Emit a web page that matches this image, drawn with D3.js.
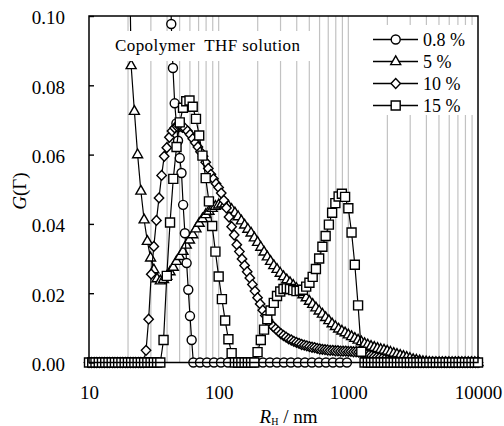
<!DOCTYPE html>
<html><head><meta charset="utf-8">
<script src="https://cdn.jsdelivr.net/npm/d3@7"></script>
<style>body{margin:0;background:#fff} svg{display:block} text{font-family:'Liberation Serif','DejaVu Serif','Times New Roman',serif}</style>
</head><body>
<svg id="chart" width="504" height="426"></svg>
<script>
// ---- data ----
// shared size grid of the 5 % and 15 % distributions (nm)
const radiiA = [10,10.59,11.22,11.89,12.59,13.34,14.13,14.96,15.85,16.79,
17.78,18.84,19.95,21.13,22.39,23.71,25.12,26.61,28.18,29.85,
31.62,33.50,35.48,37.58,39.81,42.17,44.67,47.32,50.12,53.09,
56.23,59.57,63.10,66.83,70.79,74.99,79.43,84.14,89.13,94.41,
100,105.9,112.2,118.9,125.9,133.4,141.3,149.6,158.5,167.9,
177.8,188.4,199.5,211.3,223.9,237.1,251.2,266.1,281.8,298.5,
316.2,335.0,354.8,375.8,398.1,421.7,446.7,473.2,501.2,530.9,
562.3,595.7,631.0,668.3,707.9,749.9,794.3,841.4,891.3,944.1,
1000,1059,1122,1189,1259,1334,1413,1496,1585,1679,
1778,1884,1995,2113,2239,2371,2512,2661,2818,2985,
3162,3350,3548,3758,3981,4217,4467,4732,5012,5309,
5623,5957,6310,6683,7079,7499,7943,8414,8913,9441,10000];
// size grid of the 10 % distribution (nm)
const radiiB = [10,10.47,10.96,11.48,12.02,12.59,13.18,13.80,14.45,15.14,
15.85,16.60,17.38,18.20,19.05,19.95,20.89,21.88,22.91,23.99,
25.12,26.30,27.54,28.84,30.20,31.62,33.11,34.67,36.31,38.02,
39.81,41.69,43.65,45.71,47.86,50.12,52.48,54.95,57.54,60.26,
63.10,66.07,69.18,72.44,75.86,79.43,83.18,87.10,91.20,95.50,
100,104.7,109.6,114.8,120.2,125.9,131.8,138.0,144.5,151.4,
158.5,166.0,173.8,182.0,190.5,199.5,208.9,218.8,229.1,239.9,
251.2,263.0,275.4,288.4,302.0,316.2,331.1,346.7,363.1,380.2,
398.1,416.9,436.5,457.1,478.6,501.2,524.8,549.5,575.4,602.6,
631.0,660.7,691.8,724.4,758.6,794.3,831.8,871.0,912.0,955.0,
1000,1047,1096,1148,1202,1259,1318,1380,1445,1514,
1585,1660,1738,1820,1905,1995,2089,2188,2291,2399,
2512,2630,2754,2884,3020,3162,3311,3467,3631,3802,
3981,4169,4365,4571,4786,5012,5248,5495,5754,6026,
6310,6607,6918,7244,7586,7943,8318,8710,9120,9550,10000];
// size points of the 0.8 % distribution (nm)
const radiiC = [41.8,43.1,44.4,45.8,47.2,48.6,50.1,51.7,53.2,54.9,
56.6,58.3,60.1,61.9,63.8,71.8,81.3,92.0,104.2,118.0,
133.6,151.2,171.2,193.9,219.5,248.6,281.5,318.8,360.9,408.7,
462.8,524.1,593.3,671.9,760.8,861.3,975.4];

// G(Γ) values
const g08 = [0.16,0.0977,0.085,0.0748,0.069,0.064,0.059,0.0547,0.0455,0.0373,
0.0287,0.021,0.0134,0.0065,0,0,0,0,0,0,
0,0,0,0,0,0,0,0,0,0,
0,0,0,0,0,0,0];
// null: values above the frame that are not drawn
const g5 = [null,null,null,null,null,null,null,null,null,null,
null,null,0.15,0.0857,0.0725,0.0600,0.0495,0.0412,0.0350,0.0302,
0.0268,0.0242,0.0236,0.0240,0.0249,0.0262,0.0275,0.0292,0.0306,0.0321,
0.0339,0.0354,0.0369,0.0386,0.0402,0.0415,0.0427,0.0437,0.0445,0.0451,
0.0455,0.0458,0.0458,0.0452,0.0442,0.0432,0.0421,0.0409,0.0397,0.0385,
0.0374,0.0360,0.0347,0.0333,0.0319,0.0305,0.0292,0.0280,0.0269,0.0258,
0.0248,0.0239,0.0231,0.0223,0.0214,0.0205,0.0196,0.0187,0.0177,0.0168,
0.0158,0.0149,0.0140,0.0130,0.0121,0.0112,0.0104,0.0097,0.0091,0.0086,
0.0080,0.0075,0.0070,0.0065,0.0060,0.0055,0.0051,0.0047,0.0044,0.0041,
0.0038,0.0036,0.0033,0.0030,0.0027,0.0024,0.0021,0.0018,0.0015,0.0012,
0.0009,0.0007,0.0005,0.0003,0.0002,0.0001,0,0,0,0,
0,0,0,0,0,0,0,0,0,0,0];
const g10 = [0,0,0,0,0,0,0,0,0,0,
0,0,0,0,0,0,0,0,0,0,
0,0,0.0035,0.0125,0.0255,0.0335,0.0410,0.0475,0.0540,0.0595,
0.0620,0.0650,0.0668,0.0677,0.0681,0.0681,0.0679,0.0676,0.0668,0.0658,
0.0646,0.0634,0.0622,0.0608,0.0595,0.0578,0.0560,0.0543,0.0530,0.0516,
0.0505,0.0489,0.0468,0.0446,0.0420,0.0392,0.0368,0.0340,0.0320,0.0299,
0.0280,0.0262,0.0244,0.0225,0.0206,0.0187,0.0169,0.0151,0.0136,0.0123,
0.0112,0.0104,0.0097,0.0090,0.0083,0.0078,0.0073,0.0068,0.0065,0.0061,
0.0058,0.0055,0.0052,0.0050,0.0048,0.0046,0.0044,0.0043,0.0041,0.0039,
0.0038,0.0037,0.0036,0.0035,0.0035,0.0034,0.0034,0.0033,0.0033,0.0033,
0.0032,0.0032,0.0031,0.0031,0.0030,0.0028,0.0026,0.0023,0.0021,0.0019,
0.0017,0.0015,0.0013,0.0011,0.0009,0.0007,0.0005,0.0004,0.0003,0.0002,
0.0001,0,0,0,0,0,0,0,0,0,
0,0,0,0,0,0,0,0,0,0,
0,0,0,0,0,0,0,0,0,0,0];
const g15 = [0,0,0,0,0,0,0,0,0,0,
0,0,0,0,0,0,0,0,0,0,
0,0,0,0.0065,0.0250,0.0404,0.0530,0.0622,0.0693,0.0735,
0.0754,0.0756,0.0738,0.0703,0.0655,0.0597,0.0532,0.0465,0.0394,0.0320,
0.0248,0.0183,0.0121,0.0067,0.0027,0,0,0,0,0,
0,0,0.0030,0.0065,0.0095,0.0125,0.0150,0.0172,0.0192,0.0205,
0.0212,0.0214,0.0212,0.0209,0.0206,0.0207,0.0210,0.0219,0.0230,0.0247,
0.0270,0.0300,0.0334,0.0365,0.0398,0.0432,0.0460,0.0479,0.0487,0.0478,
0.0445,0.0375,0.0282,0.0165,0.0031,0,0,0,0,0,
0,0,0,0,0,0,0,0,0,0,
0,0,0,0,0,0,0,0,0,0,
0,0,0,0,0,0,0,0,0,0,0];

const seriesLabels = ["0.8 %","5 %","10 %","15 %"];
const xTickValues = [10,100,1000,10000];
const yTickValues = [0,0.02,0.04,0.06,0.08,0.10];
const annotationText = "Copolymer  THF solution";

// ---- drawing ----
const FONT = "'Liberation Serif','DejaVu Serif','Times New Roman',serif";
const svg = d3.select("#chart");
const M = {l:89, r:478, t:16, b:362.5};
const x = d3.scaleLog().domain([10,10000]).range([M.l,M.r]);
const y = d3.scaleLinear().domain([0,0.1]).range([M.b,M.t]);

svg.append("rect").attr("width",504).attr("height",426).attr("fill","#fff");

// vertical grid lines
svg.append("g").selectAll("line")
  .data(x.ticks().filter(v => v > 10 && v < 10000))
  .join("line")
  .attr("x1", d => x(d)).attr("x2", d => x(d))
  .attr("y1", M.t).attr("y2", M.b)
  .attr("stroke", "#c2c2c2").attr("stroke-width", 1.2);

svg.append("clipPath").attr("id","plotclip").append("rect")
  .attr("x", M.l).attr("y", M.t).attr("width", M.r - M.l).attr("height", M.b - M.t + 8);

const shapes = {
  circle: "M4.5,0A4.5,4.5 0 1,1 -4.5,0A4.5,4.5 0 1,1 4.5,0Z",
  triangle: "M0,-5.6L5,3.1L-5,3.1Z",
  diamond: "M0,-4.9L4.7,0L0,4.9L-4.7,0Z",
  square: "M-4.5,-4.5H4.5V4.5H-4.5Z"
};

const series = [
  {name: seriesLabels[1], radii: radiiA, vals: g5,  shape: "triangle"},
  {name: seriesLabels[0], radii: radiiC, vals: g08, shape: "circle"},
  {name: seriesLabels[2], radii: radiiB, vals: g10, shape: "diamond"},
  {name: seriesLabels[3], radii: radiiA, vals: g15, shape: "square"}
];

const line = d3.line().defined(d => d.g !== null).x(d => x(d.r)).y(d => y(d.g));

series.forEach(s => {
  const pts = s.radii.map((r, i) => ({r, g: s.vals[i]}));
  const g = svg.append("g");
  g.append("path").datum(pts)
    .attr("d", line).attr("fill","none").attr("stroke","#000").attr("stroke-width",1.2)
    .attr("clip-path","url(#plotclip)");
  g.selectAll("path.mk").data(pts.filter(d => d.g !== null && d.g <= 0.1))
    .join("path").attr("class","mk")
    .attr("d", shapes[s.shape])
    .attr("transform", d => `translate(${x(d.r)},${y(d.g)})`)
    .attr("fill","#fff").attr("stroke","#000").attr("stroke-width",1.4);
});

// annotation box
svg.append("rect").attr("x",106).attr("y",31).attr("width",207).attr("height",30).attr("fill","#fff");
svg.append("text").attr("x",115).attr("y",51).attr("font-family",FONT)
  .attr("font-size",17).attr("textLength",185).attr("lengthAdjust","spacing")
  .style("white-space","pre").text(annotationText);

// legend
svg.append("rect").attr("x",366).attr("y",25).attr("width",110).attr("height",90).attr("fill","#fff");
const legOrder = [
  {label: seriesLabels[0], shape: "circle"},
  {label: seriesLabels[1], shape: "triangle"},
  {label: seriesLabels[2], shape: "diamond"},
  {label: seriesLabels[3], shape: "square"}
];
const leg = svg.append("g").selectAll("g").data(legOrder).join("g")
  .attr("transform", (d,i) => `translate(0,${39.5 + i*22})`);
leg.append("line").attr("x1",373).attr("x2",418).attr("y1",0).attr("y2",0)
  .attr("stroke","#000").attr("stroke-width",1.4);
leg.append("path").attr("d", d => shapes[d.shape]).attr("transform","translate(395.7,0)")
  .attr("fill","#fff").attr("stroke","#000").attr("stroke-width",1.4);
leg.append("text").attr("x",423).attr("y",6).attr("font-size",18).attr("font-family",FONT).text(d => d.label);

// frame
svg.append("rect").attr("x",M.l).attr("y",M.t).attr("width",M.r-M.l).attr("height",M.b-M.t)
  .attr("fill","none").attr("stroke","#000").attr("stroke-width",1.5);

// axes
const yAxis = d3.axisLeft(y).tickValues(yTickValues).tickFormat(d3.format(".2f"))
  .tickSizeInner(-5).tickSizeOuter(0).tickPadding(24);
const ya = svg.append("g").attr("transform",`translate(${M.l},0)`).call(yAxis);
ya.attr("font-family",FONT);
ya.select(".domain").remove();
ya.selectAll("line").attr("stroke","#000").attr("stroke-width",1.4);
ya.selectAll("text").attr("font-size",19).attr("font-family",FONT).attr("fill","#000").attr("dy","0.42em");

const xAxis = d3.axisBottom(x).tickValues(xTickValues).tickFormat(d3.format("d"))
  .tickSize(0).tickPadding(23);
const xa = svg.append("g").attr("transform",`translate(0,${M.b})`).call(xAxis);
xa.attr("font-family",FONT);
xa.select(".domain").remove();
xa.selectAll("text").attr("font-size",19).attr("font-family",FONT).attr("fill","#000");

// axis titles
const xt = svg.append("text").attr("x",288.5).attr("y",423).attr("text-anchor","middle")
  .attr("font-size",19).attr("font-family",FONT);
xt.append("tspan").attr("font-style","italic").text("R");
xt.append("tspan").attr("font-size",10).attr("dy",1.5).text("H");
xt.append("tspan").attr("dy",-1.5).text(" / nm");

const yt = svg.append("text").attr("transform","translate(26,191) rotate(-90)")
  .attr("text-anchor","middle").attr("font-size",19).attr("font-family",FONT);
yt.append("tspan").attr("font-style","italic").text("G");
yt.append("tspan").text("(Γ)");
</script>
</body></html>
